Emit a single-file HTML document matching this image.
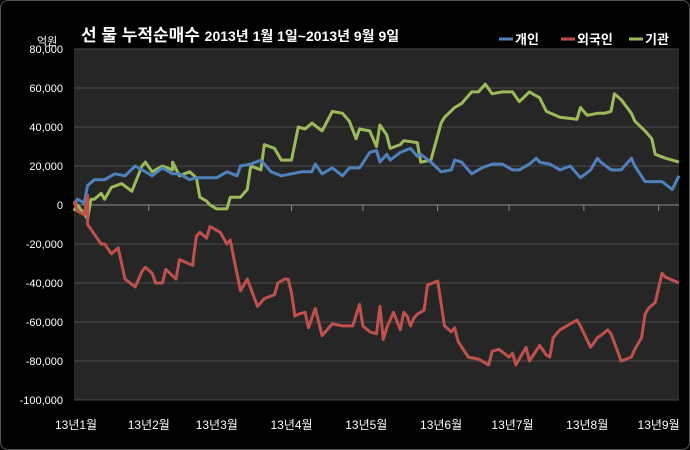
<!DOCTYPE html>
<html><head><meta charset="utf-8"><style>
html,body{margin:0;padding:0;background:#000;}
#wrap{position:relative;width:690px;height:450px;background:#000;overflow:hidden;box-sizing:border-box;border:1px solid #555;border-radius:8px;}
svg{position:absolute;left:0;top:0;}
svg text{font-family:"Liberation Sans","Noto Sans CJK KR",sans-serif;fill:#fff;}
</style></head><body>
<div id="wrap">
<svg id="chart" width="690" height="450"></svg>
</div>
<script>
const yTicks=[80000,60000,40000,20000,0,-20000,-40000,-60000,-80000,-100000];
const monthLabels=["13년1월","13년2월","13년3월","13년4월","13년5월","13년6월","13년7월","13년8월","13년9월"];
const monthLabelDays=[0.6,22,42,64,86,108,129,151,172];
const tickDays=[22,64,85,107,128,150,172];
const seriesNames=["개인","외국인","기관"];
const seriesColors=["#4f81bd","#c0504d","#9bbb59"];
const retailDays=[0,1,3,4,6,9,12,15,18,21,23,26,29,31,33,34,36,39,42,45,48,49,52,55,58,61,64,67,70,71,73,76,79,81,84,87,89,90,92,93,96,99,101,102,105,108,111,112,114,117,120,123,126,129,131,134,136,137,140,143,146,149,152,154,155,158,161,164,165,168,173,176,178];
const retailVals=[0,3,1,10,13,13,16,15,20,17,15,19,16,16,14,13,14,14,14,17,15,20,21,23,17,15,16,17,17,21,16,19,15,19,19,27,28,22,26,23,27,29,25,26,22,17,18,23,22,16,19,21,21,18,18,21,24,22,21,18,20,14,18,24,22,18,18,24,20,12,12,8,15];
const instDays=[0,1,4,5,6,8,9,11,14,17,20,21,23,26,29,29,31,34,36,37,39,40,42,45,46,49,51,52,55,56,59,61,64,66,68,70,73,76,79,81,83,84,87,89,90,92,93,96,97,101,102,105,108,109,112,114,117,119,121,123,126,129,131,134,137,139,143,148,149,151,154,156,158,159,161,164,165,168,170,171,174,178];
const instVals=[-3,0,-7,3,3,6,3,9,11,7,20,22,17,20,18,22,15,17,14,4,2,0,-2,-2,4,4,8,20,18,31,29,23,23,40,39,42,38,48,47,43,34,39,38,30,41,36,29,31,33,32,22,23,42,45,50,52,58,58,62,57,58,58,53,58,55,48,45,44,50,46,47,47,48,57,54,47,43,38,34,26,24,22];
const foreignDays=[0,1,3,4,4,6,8,9,11,13,15,18,20,21,23,24,26,27,30,31,35,35,36,37,39,40,43,45,46,47,49,51,54,56,59,60,62,63,64,65,66,68,69,71,73,76,79,82,84,85,87,89,90,91,92,94,96,97,98,99,100,101,103,104,107,109,111,112,113,116,119,122,123,125,128,129,130,133,134,137,139,140,141,143,146,148,149,152,154,155,157,158,161,164,165,167,168,169,171,173,174,178];
const foreignVals=[2,-3,-5,5,-10,-15,-20,-20,-25,-22,-38,-42,-34,-32,-35,-40,-40,-33,-38,-28,-31,-29,-16,-14,-17,-11,-14,-20,-18,-27,-44,-38,-52,-48,-46,-40,-38,-38,-45,-57,-56,-55,-63,-53,-67,-61,-62,-62,-51,-62,-65,-66,-52,-69,-63,-55,-64,-55,-57,-62,-58,-56,-54,-41,-39,-62,-65,-63,-70,-78,-79,-82,-75,-74,-78,-76,-82,-73,-80,-72,-77,-78,-68,-64,-61,-59,-62,-73,-68,-67,-64,-66,-80,-78,-74,-68,-56,-53,-50,-35,-37,-40];

const NS="http://www.w3.org/2000/svg";
const svg=document.getElementById('chart');
const PL=73,PR=678,PT=48,PB=399,DMAX=178,YMAX=80000,YMIN=-100000;
function xs(d){return PL+d/DMAX*(PR-PL);}
function ys(v){return PT+(YMAX-v)/(YMAX-YMIN)*(PB-PT);}
function mk(tag,attrs,parent){const e=document.createElementNS(NS,tag);for(const k in attrs)e.setAttribute(k,attrs[k]);(parent||svg).appendChild(e);return e;}

const bg=mk('rect',{x:PL,y:PT,width:PR-PL,height:PB-PT,fill:'#262626'});



yTicks.forEach(v=>{
  const g=mk('line',{x1:PL,x2:PR,y1:ys(v),y2:ys(v),stroke:v===0?'#8c8c8c':'#4a4a4a','stroke-width':1});
  
  
  const t=mk('text',{x:62,y:ys(v)+4,'text-anchor':'end','font-size':11});
  t.textContent=v.toLocaleString('en-US');
  
  
});
tickDays.forEach(d=>{
  const l=mk('line',{x1:xs(d),x2:xs(d),y1:ys(0),y2:ys(0)+6,stroke:'#8c8c8c','stroke-width':1});
  
  
});
monthLabels.forEach((m,i)=>{
  const t=mk('text',{x:xs(monthLabelDays[i]),y:428,'text-anchor':'middle','font-size':12});
  t.textContent=m;
  
  
});

const series=[[retailDays,retailVals],[foreignDays,foreignVals],[instDays,instVals]];
const order=[2,0,1];
order.forEach(si=>{
  const [ds,vs]=series[si];
  const n=Math.min(ds.length,vs.length);
  let p='';
  for(let i=0;i<n;i++)p+=(i?'L':'M')+xs(ds[i]).toFixed(1)+','+ys(vs[i]*1000).toFixed(1);
  const path=mk('path',{d:p,fill:'none',stroke:seriesColors[si],'stroke-width':3,'stroke-linejoin':'round'});
  
  
});

const title=mk('text',{x:80,y:40,'font-size':17,'font-weight':'bold'});


const t1=mk('tspan',{},title);t1.textContent='선 물 누적순매수 ';
const t2=mk('tspan',{'font-size':14},title);t2.textContent='2013년 1월 1일~2013년 9월 9일';

const unit=mk('text',{x:36,y:44,'font-size':11});
unit.textContent='억원';



const legX=[498,560,628];
seriesNames.forEach((n,i)=>{
  const l=mk('line',{x1:legX[i],x2:legX[i]+14,y1:38,y2:38,stroke:seriesColors[i],'stroke-width':3});
  
  
  const t=mk('text',{x:legX[i]+16,y:43,'font-size':13,'font-weight':'bold'});
  t.textContent=n;
  
  
});
</script>
</body></html>
